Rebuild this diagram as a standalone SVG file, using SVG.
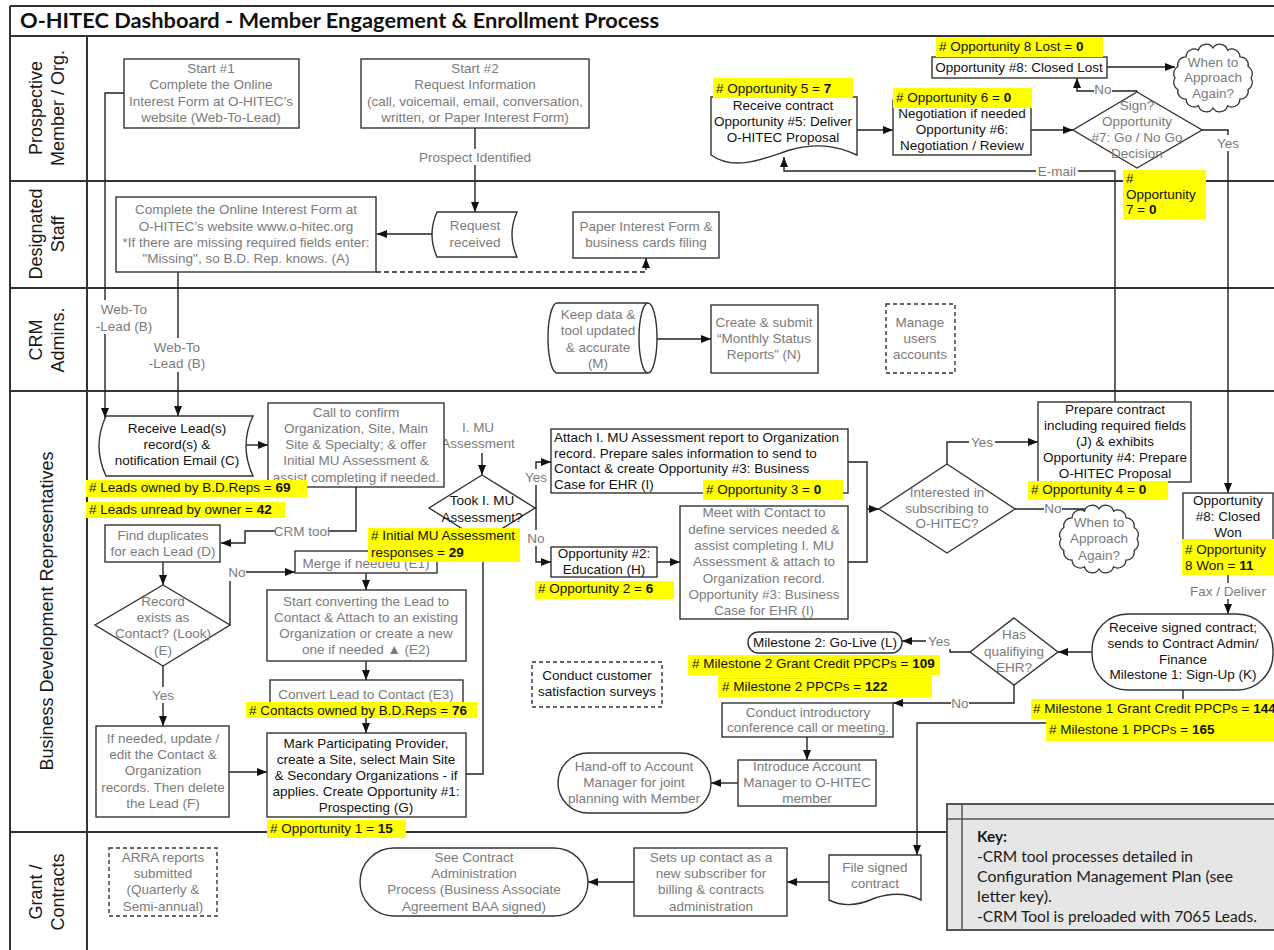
<svg xmlns="http://www.w3.org/2000/svg" xmlns:xlink="http://www.w3.org/1999/xlink" width="1274" height="950" viewBox="0 0 1274 950">
<style>
.bx{fill:#fff;stroke:#333;stroke-width:1.4}
.ds{fill:#fff;stroke:#333;stroke-width:1.4;stroke-dasharray:4 3}
.t{font-family:"Liberation Sans",Arial,sans-serif;font-size:13.5px;text-anchor:middle}
.g{fill:#7b7b7b}
.k{fill:#111}
.l{text-anchor:start}
.hl{fill:#ffff00}
.ht{font-family:"Liberation Sans",Arial,sans-serif;font-size:13.5px;fill:#111}
.b{font-weight:bold}
.c{fill:none;stroke:#222;stroke-width:1.4}
.dc{fill:none;stroke:#222;stroke-width:1.4;stroke-dasharray:5 3}
.a{marker-end:url(#ah)}
.lb{fill:#fff}
.lane{stroke:#333;stroke-width:2;fill:none}
.ln{font-family:"Liberation Sans",Arial,sans-serif;font-size:18px;fill:#1a1a1a;text-anchor:middle}
.key{font-family:Lato,"Liberation Sans",sans-serif;font-size:14.5px;fill:#1a1a1a}
</style>
<defs>
<marker id="ah" viewBox="0 0 10 8" refX="10" refY="4" markerWidth="10" markerHeight="8" orient="auto" markerUnits="userSpaceOnUse"><path d="M0,0 L10,4 L0,8 Z" fill="#111"/></marker>
<path id="cloud" d="M38,0 A8,8 0 0 1 35.1,11.5 A8,8 0 0 1 26.9,21.2 A8,8 0 0 1 14.6,27.7 A8,8 0 0 1 0,30 A8,8 0 0 1 -14.6,27.7 A8,8 0 0 1 -26.9,21.2 A8,8 0 0 1 -35.1,11.5 A8,8 0 0 1 -38,0 A8,8 0 0 1 -35.1,-11.5 A8,8 0 0 1 -26.9,-21.2 A8,8 0 0 1 -14.6,-27.7 A8,8 0 0 1 0,-30 A8,8 0 0 1 14.6,-27.7 A8,8 0 0 1 26.9,-21.2 A8,8 0 0 1 35.1,-11.5 A8,8 0 0 1 38,0 Z" fill="#fff" stroke="#333" stroke-width="1.3"/>
</defs>
<rect x="0" y="0" width="1274" height="950" fill="#fff"/>
<g id="frame">
<path class="lane" d="M10,6 H1274 M10,36 H1274 M10,6 V950 M87,36 V950 M10,181 H1274 M10,288 H1274 M10,391 H1274 M10,832 H1274"/>
<text x="20" y="28" font-family="Lato,'Liberation Sans',sans-serif" font-size="21" font-weight="bold" fill="#111" textLength="639" lengthAdjust="spacingAndGlyphs">O-HITEC Dashboard - Member Engagement &amp; Enrollment Process</text>
<text class="ln" transform="translate(42,108) rotate(-90)">Prospective</text>
<text class="ln" transform="translate(64,108) rotate(-90)">Member / Org.</text>
<text class="ln" transform="translate(42,234) rotate(-90)">Designated</text>
<text class="ln" transform="translate(64,234) rotate(-90)">Staff</text>
<text class="ln" transform="translate(42,340) rotate(-90)">CRM</text>
<text class="ln" transform="translate(64,340) rotate(-90)">Admins.</text>
<text class="ln" transform="translate(53,611) rotate(-90)">Business Development Representatives</text>
<text class="ln" transform="translate(42,892) rotate(-90)">Grant /</text>
<text class="ln" transform="translate(64,892) rotate(-90)">Contracts</text>
</g>
<g id="connectors">
<path class="c a" d="M124,93 H105 V418"/>
<path class="c a" d="M475,128 V212"/>
<path class="c a" d="M433,234 H377"/>
<path class="dc a" d="M376,272 H646 V258"/>
<path class="c a" d="M178,272 V416"/>
<path class="c a" d="M246,445 H268"/>
<path class="c a" d="M356,487 V531 H245 V543 H221"/>
<path class="c a" d="M163,562 V585"/>
<path class="c a" d="M230,625 V572 H295"/>
<path class="c a" d="M163,666 V726"/>
<path class="c a" d="M229,772 H267"/>
<path class="c a" d="M366,573 V590"/>
<path class="c a" d="M366,661 V680"/>
<path class="c a" d="M366,718 V733"/>
<path class="c" d="M466,774 H483 V541"/>
<path class="c a" d="M482,453 V475"/>
<path class="c a" d="M535,508 H536 V462 H551"/>
<path class="c a" d="M536,508 V562 H551"/>
<path class="c a" d="M657,562 H680"/>
<path class="c" d="M848,462 H867 V562 H848"/>
<path class="c a" d="M867,509 H879"/>
<path class="c a" d="M947,464 V442 H1038"/>
<path class="c a" d="M1015,509 H1099"/>
<path class="c a" d="M1115,402 V171 H784 V157"/>
<path class="c a" d="M857,130 H893"/>
<path class="c a" d="M1031,130 H1073"/>
<path class="c a" d="M1137,92 V91 H1077 V78"/>
<path class="c a" d="M1107,67 H1175"/>
<path class="c a" d="M1202,130 H1228 V493"/>
<path class="c a" d="M1228,575 V614"/>
<path class="c a" d="M1092,652 H1058"/>
<path class="c a" d="M970,652 H950 V641 H902"/>
<path class="c a" d="M1014,685 V703 H893"/>
<path class="c a" d="M807,737 V760"/>
<path class="c a" d="M738,783 H711"/>
<path class="c" d="M1183,690 V699"/>
<path class="c a" d="M1046,723 H917 V855"/>
<path class="c a" d="M829,882 H787"/>
<path class="c a" d="M634,882 H588"/>
<path class="c a" d="M657,339 H711"/>
<g id="labels">
<rect class="lb" x="96" y="300" width="57" height="34"/>
<text class="t g"><tspan x="124" y="314">Web-To</tspan><tspan x="124" y="331">-Lead (B)</tspan></text>
<rect class="lb" x="149" y="338" width="57" height="34"/>
<text class="t g"><tspan x="177" y="352">Web-To</tspan><tspan x="177" y="368">-Lead (B)</tspan></text>
<rect class="lb" x="419" y="149" width="112" height="16"/>
<text class="t g" x="475" y="162">Prospect Identified</text>
<rect class="lb" x="276" y="523" width="52" height="16"/>
<text class="t g" x="302" y="536">CRM tool</text>
<rect class="lb" x="227" y="564" width="19" height="17"/>
<text class="t g" x="237" y="577">No</text>
<rect class="lb" x="150" y="687" width="26" height="16"/>
<text class="t g" x="163" y="700">Yes</text>
<text class="t g"><tspan x="478" y="432">I. MU</tspan><tspan x="478" y="448">Assessment</tspan></text>
<rect class="lb" x="523" y="469" width="26" height="16"/>
<text class="t g" x="536" y="482">Yes</text>
<rect class="lb" x="527" y="530" width="18" height="16"/>
<text class="t g" x="536" y="543">No</text>
<rect class="lb" x="969" y="434" width="26" height="16"/>
<text class="t g" x="982" y="447">Yes</text>
<rect class="lb" x="1044" y="500" width="18" height="16"/>
<text class="t g" x="1053" y="513">No</text>
<rect class="lb" x="1036" y="163" width="42" height="16"/>
<text class="t g" x="1057" y="176">E-mail</text>
<rect class="lb" x="1094" y="81" width="18" height="16"/>
<text class="t g" x="1103" y="94">No</text>
<rect class="lb" x="1215" y="135" width="26" height="16"/>
<text class="t g" x="1228" y="148">Yes</text>
<rect class="lb" x="1190" y="583" width="76" height="16"/>
<text class="t g" x="1228" y="596">Fax / Deliver</text>
<rect class="lb" x="926" y="633" width="26" height="16"/>
<text class="t g" x="939" y="646">Yes</text>
<rect class="lb" x="951" y="695" width="18" height="16"/>
<text class="t g" x="960" y="708">No</text>
</g>
</g>
<g id="n-start1"><rect class="bx" x="124" y="59" width="175" height="69"/><text class="t g"><tspan x="211" y="73">Start #1</tspan><tspan x="211" y="89">Complete the Online</tspan><tspan x="211" y="106">Interest Form at O-HITEC’s</tspan><tspan x="211" y="122">website (Web-To-Lead)</tspan></text></g>
<g id="n-start2"><rect class="bx" x="361" y="59" width="228" height="69"/><text class="t g"><tspan x="475" y="73">Start #2</tspan><tspan x="475" y="89">Request Information</tspan><tspan x="475" y="106">(call, voicemail, email, conversation,</tspan><tspan x="475" y="122">written, or Paper Interest Form)</tspan></text></g>
<g id="n-request"><path class="bx" d="M437,212 H517 Q507,234.5 517,257 H437 Q427,234.5 437,212 Z"/><text class="t g"><tspan x="475" y="230">Request</tspan><tspan x="475" y="247">received</tspan></text></g>
<g id="n-designated"><rect class="bx" x="116" y="197" width="260" height="75"/><text class="t g"><tspan x="246" y="214">Complete the Online Interest Form at</tspan><tspan x="246" y="231">O-HITEC’s website www.o-hitec.org</tspan><tspan x="246" y="247">*If there are missing required fields enter:</tspan><tspan x="246" y="263">"Missing", so B.D. Rep. knows. (A)</tspan></text></g>
<g id="n-paper"><rect class="bx" x="573" y="212" width="146" height="46"/><text class="t g"><tspan x="646" y="231">Paper Interest Form &amp;</tspan><tspan x="646" y="247">business cards filing</tspan></text></g>
<g id="n-keepdata"><path class="bx" d="M557,303 H648 A9,35 0 0 1 648,373 H557 A9,35 0 0 1 557,303 Z M648,303 A9,35 0 0 0 648,373"/><text class="t g"><tspan x="598" y="319">Keep data &amp;</tspan><tspan x="598" y="335">tool updated</tspan><tspan x="598" y="352">&amp; accurate</tspan><tspan x="598" y="368">(M)</tspan></text></g>
<g id="n-monthly"><rect class="bx" x="711" y="305" width="107" height="68"/><text class="t g"><tspan x="764" y="327">Create &amp; submit</tspan><tspan x="764" y="343">“Monthly Status</tspan><tspan x="764" y="359">Reports” (N)</tspan></text></g>
<g id="n-manage"><rect class="ds" x="886" y="304" width="69" height="69"/><text class="t g"><tspan x="920" y="327">Manage</tspan><tspan x="920" y="343">users</tspan><tspan x="920" y="359">accounts</tspan></text></g>
<g id="n-receivelead"><path class="bx" d="M106,416 H253 Q239,446 253,476 H106 Q92,446 106,416 Z"/><text class="t k"><tspan x="177" y="433">Receive Lead(s)</tspan><tspan x="177" y="449">record(s) &amp;</tspan><tspan x="177" y="465">notification Email (C)</tspan></text></g>
<g id="n-call"><rect class="bx" x="268" y="403" width="176" height="84"/><text class="t g"><tspan x="356" y="417">Call to confirm</tspan><tspan x="356" y="433">Organization, Site, Main</tspan><tspan x="356" y="449">Site &amp; Specialty; &amp; offer</tspan><tspan x="356" y="465">Initial MU Assessment &amp;</tspan><tspan x="356" y="482">assist completing if needed.</tspan></text></g>
<g id="n-finddup"><rect class="bx" x="105" y="525" width="115" height="37"/><text class="t g"><tspan x="163" y="540">Find duplicates</tspan><tspan x="163" y="556">for each Lead (D)</tspan></text></g>
<g id="n-record"><polygon class="bx" points="163,585 230,625 163,666 95,625"/><text class="t g"><tspan x="163" y="606">Record</tspan><tspan x="163" y="622">exists as</tspan><tspan x="163" y="638">Contact? (Look)</tspan><tspan x="163" y="655">(E)</tspan></text></g>
<g id="n-ifneeded"><rect class="bx" x="96" y="726" width="133" height="91"/><text class="t g"><tspan x="163" y="743">If needed, update /</tspan><tspan x="163" y="759">edit the Contact &amp;</tspan><tspan x="163" y="775">Organization</tspan><tspan x="163" y="792">records. Then delete</tspan><tspan x="163" y="808">the Lead (F)</tspan></text></g>
<g id="n-merge"><rect class="bx" x="295" y="551" width="142" height="22"/><text class="t g" x="366" y="568">Merge if needed (E1)</text></g>
<g id="n-startconv"><rect class="bx" x="267" y="590" width="199" height="71"/><text class="t g"><tspan x="366" y="606">Start converting the Lead to</tspan><tspan x="366" y="622">Contact &amp; Attach to an existing</tspan><tspan x="366" y="638">Organization or create a new</tspan><tspan x="366" y="654">one if needed ▲ (E2)</tspan></text></g>
<g id="n-convert"><rect class="bx" x="270" y="680" width="193" height="26"/><text class="t g" x="366" y="699">Convert Lead to Contact (E3)</text></g>
<g id="n-mark"><rect class="bx" x="267" y="733" width="199" height="84"/><text class="t k"><tspan x="366" y="748">Mark Participating Provider,</tspan><tspan x="366" y="764">create a Site, select Main Site</tspan><tspan x="366" y="780">&amp; Secondary Organizations - if</tspan><tspan x="366" y="796">applies.  Create Opportunity #1:</tspan><tspan x="366" y="812">Prospecting (G)</tspan></text></g>
<g id="n-took"><polygon class="bx" points="482,475 535,508 482,541 429,508"/><text class="t k"><tspan x="482" y="505">Took I. MU</tspan><tspan x="482" y="522">Assessment?</tspan></text></g>
<g id="n-attach"><rect class="bx" x="551" y="429" width="297" height="64"/><text class="t k l"><tspan x="554" y="442">Attach I. MU Assessment report to Organization</tspan><tspan x="554" y="458">record. Prepare sales information to send to</tspan><tspan x="554" y="473">Contact &amp; create Opportunity #3: Business</tspan><tspan x="554" y="489">Case for EHR (I)</tspan></text></g>
<g id="n-opp2"><rect class="bx" x="551" y="547" width="106" height="30"/><text class="t k"><tspan x="604" y="558">Opportunity #2:</tspan><tspan x="604" y="574">Education (H)</tspan></text></g>
<g id="n-meet"><rect class="bx" x="680" y="506" width="168" height="113"/><text class="t g"><tspan x="764" y="517">Meet with Contact  to</tspan><tspan x="764" y="534">define services needed &amp;</tspan><tspan x="764" y="550">assist completing I. MU</tspan><tspan x="764" y="566">Assessment &amp;  attach to</tspan><tspan x="764" y="583">Organization record.</tspan><tspan x="764" y="599">Opportunity #3: Business</tspan><tspan x="764" y="615">Case for EHR (I)</tspan></text></g>
<g id="n-interested"><polygon class="bx" points="947,464 1015,509 947,553 879,509"/><text class="t g"><tspan x="947" y="497">Interested in</tspan><tspan x="947" y="513">subscribing to</tspan><tspan x="947" y="528">O-HITEC?</tspan></text></g>
<g id="n-when2"><use xlink:href="#cloud" href="#cloud" transform="translate(1099,539)"/><text class="t g"><tspan x="1099" y="527">When to</tspan><tspan x="1099" y="543">Approach</tspan><tspan x="1099" y="560">Again?</tspan></text></g>
<g id="n-prepare"><rect class="bx" x="1038" y="402" width="153" height="80"/><text class="t k"><tspan x="1115" y="414">Prepare contract</tspan><tspan x="1115" y="430">including required fields</tspan><tspan x="1115" y="446">(J) &amp; exhibits</tspan><tspan x="1115" y="462">Opportunity #4: Prepare</tspan><tspan x="1115" y="478">O-HITEC Proposal</tspan></text></g>
<g id="n-closedwon"><rect class="bx" x="1183" y="493" width="90" height="47"/><text class="t k"><tspan x="1228" y="505">Opportunity</tspan><tspan x="1228" y="521">#8: Closed</tspan><tspan x="1228" y="537">Won</tspan></text></g>
<g id="n-receivecontract"><path class="bx" d="M711,97 H857 V155 C835,145 815,143 790,150 C765,158 735,172 711,155 Z"/><text class="t k"><tspan x="783" y="110">Receive contract</tspan><tspan x="783" y="126">Opportunity #5: Deliver</tspan><tspan x="783" y="142">O-HITEC Proposal</tspan></text></g>
<g id="n-negotiation"><rect class="bx" x="893" y="100" width="138" height="55"/><text class="t k"><tspan x="962" y="118">Negotiation if needed</tspan><tspan x="962" y="134">Opportunity #6:</tspan><tspan x="962" y="150">Negotiation / Review</tspan></text></g>
<g id="n-sign"><polygon class="bx" points="1137,92 1202,130 1137,168 1073,130"/><text class="t g"><tspan x="1137" y="110">Sign?</tspan><tspan x="1137" y="126">Opportunity</tspan><tspan x="1137" y="142">#7: Go / No Go</tspan><tspan x="1137" y="158">Decision</tspan></text></g>
<g id="n-closedlost"><rect class="bx" x="932" y="57" width="175" height="21"/><text class="t k" x="1019" y="72">Opportunity #8: Closed Lost</text></g>
<g id="n-when1"><use xlink:href="#cloud" href="#cloud" transform="translate(1213,78)"/><text class="t g"><tspan x="1213" y="67">When to</tspan><tspan x="1213" y="82">Approach</tspan><tspan x="1213" y="98">Again?</tspan></text></g>
<g id="n-receivesigned"><rect class="bx" x="1092" y="614" width="181" height="76" rx="36"/><text class="t k"><tspan x="1183" y="632">Receive signed contract;</tspan><tspan x="1183" y="648">sends to Contract Admin/</tspan><tspan x="1183" y="664">Finance</tspan><tspan x="1183" y="679">Milestone 1: Sign-Up (K)</tspan></text></g>
<g id="n-hasehr"><polygon class="bx" points="1014,618 1058,652 1014,685 970,652"/><text class="t g"><tspan x="1014" y="639">Has</tspan><tspan x="1014" y="656">qualifiying</tspan><tspan x="1014" y="672">EHR?</tspan></text></g>
<g id="n-milestone2"><rect class="bx" x="748" y="632" width="154" height="21" rx="10.5"/><text class="t k" x="825" y="647">Milestone 2: Go-Live (L)</text></g>
<g id="n-conduct"><rect class="bx" x="722" y="703" width="171" height="34"/><text class="t g"><tspan x="808" y="717">Conduct introductory</tspan><tspan x="808" y="732">conference call or meeting.</tspan></text></g>
<g id="n-introduce"><rect class="bx" x="738" y="760" width="138" height="46"/><text class="t g"><tspan x="807" y="771">Introduce Account</tspan><tspan x="807" y="787">Manager to O-HITEC</tspan><tspan x="807" y="803">member</tspan></text></g>
<g id="n-handoff"><rect class="bx" x="558" y="753" width="153" height="60" rx="30"/><text class="t g"><tspan x="634" y="771">Hand-off to Account</tspan><tspan x="634" y="787">Manager for joint</tspan><tspan x="634" y="803">planning with Member</tspan></text></g>
<g id="n-survey"><rect class="ds" x="532" y="662" width="130" height="45"/><text class="t k"><tspan x="597" y="680">Conduct customer</tspan><tspan x="597" y="696">satisfaction surveys</tspan></text></g>
<g id="n-filesigned"><path class="bx" d="M829,855 H921 V900 C905,892 890,893 875,898 C860,905 845,908 829,900 Z"/><text class="t g"><tspan x="875" y="872">File signed</tspan><tspan x="875" y="888">contract</tspan></text></g>
<g id="n-setsup"><rect class="bx" x="634" y="848" width="153" height="68"/><text class="t g"><tspan x="711" y="862">Sets up contact as a</tspan><tspan x="711" y="878">new subscriber for</tspan><tspan x="711" y="894">billing &amp; contracts</tspan><tspan x="711" y="911">administration</tspan></text></g>
<g id="n-seecontract"><rect class="bx" x="360" y="848" width="228" height="68" rx="34"/><text class="t g"><tspan x="474" y="862">See Contract</tspan><tspan x="474" y="878">Administration</tspan><tspan x="474" y="894">Process (Business Associate</tspan><tspan x="474" y="911">Agreement BAA signed)</tspan></text></g>
<g id="n-arra"><rect class="ds" x="109" y="848" width="108" height="68"/><text class="t g"><tspan x="163" y="862">ARRA reports</tspan><tspan x="163" y="878">submitted</tspan><tspan x="163" y="894">(Quarterly &amp;</tspan><tspan x="163" y="911">Semi-annual)</tspan></text></g>
<g id="highlights">
<rect class="hl" x="936" y="37" width="167" height="20"/><text class="ht" x="939" y="51"># Opportunity 8 Lost = <tspan class="b">0</tspan></text>
<rect class="hl" x="713" y="78" width="140" height="20"/><text class="ht" x="716" y="93"># Opportunity 5 = <tspan class="b">7</tspan></text>
<rect class="hl" x="893" y="88" width="139" height="20"/><text class="ht" x="896" y="102"># Opportunity 6 = <tspan class="b">0</tspan></text>
<rect class="hl" x="1123" y="170" width="83" height="49"/><text class="ht"><tspan x="1126" y="183">#</tspan><tspan x="1126" y="199">Opportunity</tspan><tspan x="1126" y="214">7 = <tspan class="b">0</tspan></tspan></text>
<rect class="hl" x="86" y="480" width="221" height="17"/><text class="ht" x="89" y="492"># Leads owned by B.D.Reps = <tspan class="b">69</tspan></text>
<rect class="hl" x="86" y="502" width="199" height="16"/><text class="ht" x="89" y="514"># Leads unread by owner = <tspan class="b">42</tspan></text>
<rect class="hl" x="368" y="528" width="152" height="34"/><text class="ht"><tspan x="371" y="540"># Initial MU Assessment</tspan><tspan x="371" y="557">responses = <tspan class="b">29</tspan></tspan></text>
<rect class="hl" x="703" y="480" width="140" height="20"/><text class="ht" x="706" y="494"># Opportunity 3 = <tspan class="b">0</tspan></text>
<rect class="hl" x="535" y="581" width="139" height="18"/><text class="ht" x="538" y="593"># Opportunity 2 = <tspan class="b">6</tspan></text>
<rect class="hl" x="1028" y="481" width="140" height="19"/><text class="ht" x="1031" y="494"># Opportunity 4 = <tspan class="b">0</tspan></text>
<rect class="hl" x="1182" y="539" width="92" height="36"/><text class="ht"><tspan x="1185" y="554"># Opportunity</tspan><tspan x="1185" y="570">8 Won = <tspan class="b">11</tspan></tspan></text>
<rect class="hl" x="246" y="702" width="231" height="16"/><text class="ht" x="249" y="715"># Contacts owned by B.D.Reps = <tspan class="b">76</tspan></text>
<rect class="hl" x="267" y="820" width="139" height="18"/><text class="ht" x="270" y="833"># Opportunity 1 = <tspan class="b">15</tspan></text>
<rect class="hl" x="688" y="655" width="252" height="20"/><text class="ht" x="692" y="668"># Milestone 2 Grant Credit PPCPs = <tspan class="b">109</tspan></text>
<rect class="hl" x="718" y="676" width="214" height="21"/><text class="ht" x="722" y="691"># Milestone 2 PPCPs = <tspan class="b">122</tspan></text>
<rect class="hl" x="1031" y="699" width="243" height="20"/><text class="ht" x="1033" y="713" font-size="12.8"># Milestone 1 Grant Credit PPCPs = <tspan class="b">144</tspan></text>
<rect class="hl" x="1046" y="720" width="228" height="21"/><text class="ht" x="1049" y="734"># Milestone 1 PPCPs = <tspan class="b">165</tspan></text>
</g>
<g id="key">
<rect x="947" y="804" width="330" height="126" fill="#e6e6e6" stroke="#555" stroke-width="2"/>
<path d="M947,819 H1274 M962,804 V930" stroke="#555" stroke-width="1.5" fill="none"/>
<text class="key b" x="977" y="842" textLength="30" lengthAdjust="spacingAndGlyphs">Key:</text>
<text class="key" x="977" y="862" textLength="216" lengthAdjust="spacingAndGlyphs">-CRM tool processes detailed in</text>
<text class="key" x="977" y="882" textLength="256" lengthAdjust="spacingAndGlyphs">Configuration Management Plan (see</text>
<text class="key" x="977" y="902" textLength="75" lengthAdjust="spacingAndGlyphs">letter key).</text>
<text class="key" x="977" y="922" textLength="280" lengthAdjust="spacingAndGlyphs">-CRM Tool is preloaded with 7065 Leads.</text>
</g>
</svg>
